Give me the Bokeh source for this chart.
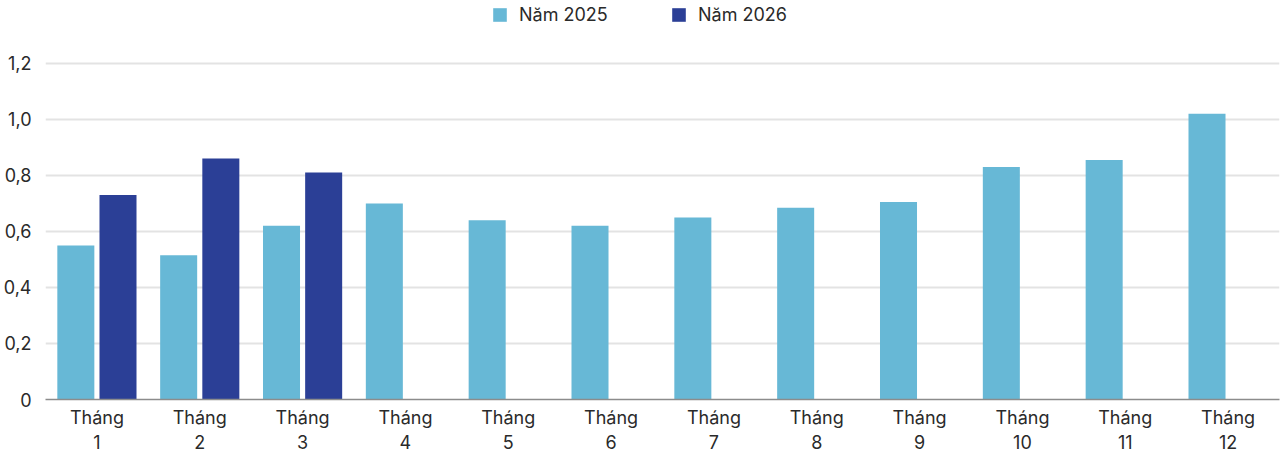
from bokeh.plotting import figure
from bokeh.models import (ColumnDataSource, FixedTicker, CustomJSTickFormatter,
                          Legend, LegendItem, Range1d)
from bokeh.transform import dodge
from bokeh.embed import file_html
from bokeh.resources import INLINE

# Monthly values, 2025 full year and 2026 first quarter
months = list(range(1, 13))
month_labels = [f"Tháng\n{m}" for m in months]
values_2025 = [0.55, 0.515, 0.62, 0.70, 0.64, 0.62, 0.65, 0.685, 0.705, 0.83, 0.855, 1.02]
months_2026 = [1, 2, 3]
values_2026 = [0.73, 0.86, 0.81]
y_ticks = [0, 0.2, 0.4, 0.6, 0.8, 1.0, 1.2]

LIGHT = "#67B8D6"
DARK = "#2B3F96"
FONT = "Inter"
TEXT = "#2a2a2a"

src25 = ColumnDataSource(dict(x=months, y=values_2025))
src26 = ColumnDataSource(dict(x=months_2026, y=values_2026))

# The frame runs to the top edge; the headroom above 1,2 holds the legend
p = figure(width=1280, height=455, output_backend="svg", toolbar_location=None,
           x_range=Range1d(0.5, 12.5), y_range=Range1d(0, 1.4245),
           min_border_left=41, min_border_right=1, min_border_top=0,
           min_border_bottom=55, outline_line_color=None,
           background_fill_color="white", border_fill_color="white")

r25 = p.vbar(x=dodge("x", -0.205, range=p.x_range), top="y", width=0.36,
             source=src25, color=LIGHT, line_color=None)
r26 = p.vbar(x=dodge("x", 0.205, range=p.x_range), top="y", width=0.36,
             source=src26, color=DARK, line_color=None)

# Axes
p.xaxis.ticker = FixedTicker(ticks=months)
p.xaxis.major_label_overrides = {m: lab for m, lab in zip(months, month_labels)}
p.xaxis.axis_line_color = "#8c8c8c"
p.xaxis.axis_line_width = 1.5
p.xaxis.major_tick_line_color = None
p.xaxis.minor_tick_line_color = None
p.xaxis.major_label_standoff = 1
p.xaxis.major_label_text_font = FONT
p.xaxis.major_label_text_font_size = "18px"
p.xaxis.major_label_text_color = TEXT
p.xaxis.major_label_text_line_height = 1.2

p.yaxis.ticker = FixedTicker(ticks=y_ticks)
p.yaxis.formatter = CustomJSTickFormatter(
    code="return tick == 0 ? '0' : tick.toFixed(1).replace('.', ',');")
p.yaxis.axis_line_color = None
p.yaxis.major_tick_line_color = None
p.yaxis.minor_tick_line_color = None
p.yaxis.major_label_standoff = 8
p.yaxis.major_label_text_font = FONT
p.yaxis.major_label_text_font_size = "18px"
p.yaxis.major_label_text_color = TEXT

p.xgrid.grid_line_color = None
p.ygrid.grid_line_color = "#e3e3e3"
p.ygrid.grid_line_width = 2

legend = Legend(items=[LegendItem(label="Năm 2025", renderers=[r25]),
                       LegendItem(label="Năm 2026", renderers=[r26])],
                orientation="horizontal", location=(446, 374),
                glyph_width=17, glyph_height=17, label_standoff=11,
                label_width=93, spacing=58, padding=0, margin=0,
                border_line_color=None, background_fill_alpha=0,
                label_text_font=FONT, label_text_font_size="18px",
                label_text_color=TEXT)
p.add_layout(legend, "center")

open("out.html", "w").write(file_html(p, INLINE))
